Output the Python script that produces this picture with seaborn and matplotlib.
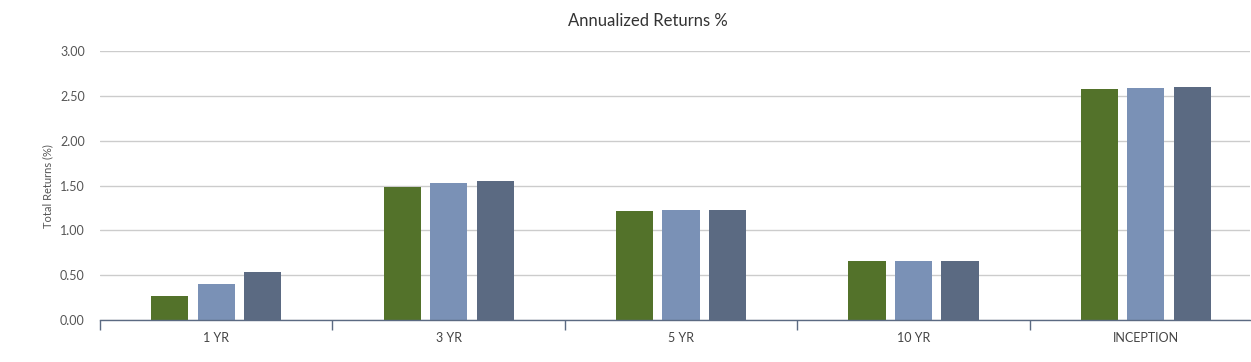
import seaborn as sns
import matplotlib.pyplot as plt
import pandas as pd

# Values
periods = ['1 YR', '3 YR', '5 YR', '10 YR', 'INCEPTION']
series_names = ['Series A', 'Series B', 'Series C']
series_a = [0.27, 1.49, 1.22, 0.66, 2.58]
series_b = [0.40, 1.53, 1.23, 0.66, 2.59]
series_c = [0.54, 1.55, 1.23, 0.66, 2.60]
colors = ['#53722A', '#7A91B6', '#5B6A82']

df = pd.DataFrame({
    'period': periods * 3,
    'series': [s for s in series_names for _ in periods],
    'value': series_a + series_b + series_c,
})

sns.set_style('white')
plt.rcParams['font.family'] = ['Lato', 'DejaVu Sans']

fig = plt.figure(figsize=(12.51, 3.62), dpi=100)
ax = fig.add_axes([100 / 1251, 42 / 362, 1150 / 1251, 268.7 / 362])

sns.barplot(data=df, x='period', y='value', hue='series', order=periods,
            hue_order=series_names, palette=colors, width=0.6, gap=0.2,
            saturation=1, legend=False, linewidth=0, ax=ax)

ax.set_ylim(0, 3)
ax.set_xlim(-0.5, 4.448)
ax.set_yticks([0, 0.5, 1, 1.5, 2, 2.5, 3])
ax.set_yticklabels([f'{v:.2f}' for v in ax.get_yticks()])
ax.yaxis.grid(True, color='#CCCCCC', linewidth=1)
ax.set_axisbelow(True)

# category boundaries get the tick marks, labels sit in the middle
ax.set_xticks([i - 0.5 for i in range(len(periods))], minor=True)
ax.tick_params(axis='x', which='minor', bottom=True, length=7, width=1,
               color='#5B6A82', direction='out')
ax.tick_params(axis='x', which='major', bottom=True, length=0, pad=9,
               labelsize=9, labelcolor='#444444')
ax.tick_params(axis='y', length=0, pad=11, labelsize=9, labelcolor='#555555')

for side in ['top', 'right', 'left']:
    ax.spines[side].set_visible(False)
ax.spines['bottom'].set_color('#5B6A82')
ax.spines['bottom'].set_linewidth(1)

ax.set_xlabel('')
ax.set_ylabel('Total Returns (%)', fontsize=8, color='#555555', labelpad=5)

fig.text(648 / 1251, 1 - 21 / 362, 'Annualized Returns %', ha='center', va='center',
         fontsize=12, color='#333333')

fig.savefig('out.png', dpi=100)
